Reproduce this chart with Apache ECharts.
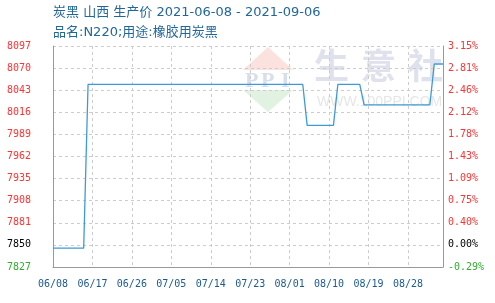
<!DOCTYPE html>
<html>
<head>
<meta charset="utf-8">
<script src="https://cdn.jsdelivr.net/npm/echarts@6/dist/echarts.min.js"></script>
<style>
  html, body { margin: 0; padding: 0; background: #fff; }
  #chart { width: 495px; height: 303px; }
</style>
</head>
<body>
<div id="chart"></div>
<script>
// Daily dates shown on the x axis
const dates = [
  '06/08','06/09','06/10','06/11','06/12','06/13','06/14','06/15','06/16','06/17',
  '06/18','06/19','06/20','06/21','06/22','06/23','06/24','06/25','06/26','06/27',
  '06/28','06/29','06/30','07/01','07/02','07/03','07/04','07/05','07/06','07/07',
  '07/08','07/09','07/10','07/11','07/12','07/13','07/14','07/15','07/16','07/17',
  '07/18','07/19','07/20','07/21','07/22','07/23','07/24','07/25','07/26','07/27',
  '07/28','07/29','07/30','07/31','08/01','08/02','08/03','08/04','08/05','08/06',
  '08/07','08/08','08/09','08/10','08/11','08/12','08/13','08/14','08/15','08/16',
  '08/17','08/18','08/19','08/20','08/21','08/22','08/23','08/24','08/25','08/26',
  '08/27','08/28','08/29','08/30','08/31','09/01','09/02','09/03','09/04','09/05'
];

// Ex-works price (元/吨) for each date
const prices = [
  7850, 7850, 7850, 7850, 7850, 7850, 7850, 7850, 8050, 8050,
  8050, 8050, 8050, 8050, 8050, 8050, 8050, 8050, 8050, 8050,
  8050, 8050, 8050, 8050, 8050, 8050, 8050, 8050, 8050, 8050,
  8050, 8050, 8050, 8050, 8050, 8050, 8050, 8050, 8050, 8050,
  8050, 8050, 8050, 8050, 8050, 8050, 8050, 8050, 8050, 8050,
  8050, 8050, 8050, 8050, 8050, 8050, 8050, 8050, 8000, 8000,
  8000, 8000, 8000, 8000, 8000, 8050, 8050, 8050, 8050, 8050,
  8050, 8025, 8025, 8025, 8025, 8025, 8025, 8025, 8025, 8025,
  8025, 8025, 8025, 8025, 8025, 8025, 8025, 8075, 8075, 8075
];

// Tick labels, bottom to top
const priceTicks = ['7827','7850','7881','7908','7935','7962','7989','8016','8043','8070','8097'];
const pctTicks = ['-0.29%','0.00%','0.40%','0.75%','1.09%','1.43%','1.78%','2.12%','2.46%','2.81%','3.15%'];

const axisMin = 7827;
const axisMax = 8097;
const axisStep = 27;
const baseTick = 1; // the tick that marks the starting price

function tickIndex(v) { return Math.round((v - axisMin) / axisStep); }
function tickStyle(i) { return i === baseTick ? 'b' : (i < baseTick ? 'g' : 'r'); }

const labelRich = {
  r: { color: '#ff3333', fontFamily: 'DejaVu Sans Mono', fontSize: 10 },
  b: { color: '#000000', fontFamily: 'DejaVu Sans Mono', fontSize: 10 },
  g: { color: '#33aa33', fontFamily: 'DejaVu Sans Mono', fontSize: 10 }
};

const titleFont = '"DejaVu Sans", "Noto Sans CJK SC", sans-serif';
const markFill = '#d8deec';

const chart = echarts.init(document.getElementById('chart'), null, { renderer: 'canvas' });

chart.setOption({
  animation: false,
  backgroundColor: '#ffffff',
  title: {
    text: '炭黑 山西 生产价 2021-06-08 - 2021-09-06',
    subtext: '品名:N220;用途:橡胶用炭黑',
    left: 48,
    top: 1,
    itemGap: 7,
    textStyle: { color: '#22679a', fontSize: 13, fontWeight: 'normal', fontFamily: titleFont },
    subtextStyle: { color: '#22679a', fontSize: 13, fontFamily: titleFont }
  },
  graphic: [
    // site logo behind the plot
    { type: 'polygon', z: -1, shape: { points: [[268, 47], [243, 70], [293, 70]] }, style: { fill: '#fbe2df' } },
    { type: 'polygon', z: -1, shape: { points: [[243, 90], [293, 90], [268, 112]] }, style: { fill: '#e1f2e2' } },
    { type: 'text', z: -1, left: 245, top: 70, style: { text: 'P', fill: markFill, font: 'bold 22px "Liberation Serif"' } },
    { type: 'text', z: -1, left: 261, top: 70, style: { text: 'P', fill: markFill, font: 'bold 22px "Liberation Serif"' } },
    { type: 'text', z: -1, left: 281, top: 70, style: { text: 'I', fill: markFill, font: 'bold 22px "Liberation Serif"' } },
    { type: 'text', z: -1, left: 314, top: 48, style: { text: '生', fill: '#dfe2ec', font: 'bold 35px "Noto Sans CJK SC"' } },
    { type: 'text', z: -1, left: 361, top: 48, style: { text: '意', fill: '#dfe2ec', font: 'bold 35px "Noto Sans CJK SC"' } },
    { type: 'text', z: -1, left: 408, top: 48, style: { text: '社', fill: '#dfe2ec', font: 'bold 35px "Noto Sans CJK SC"' } },
    { type: 'text', z: -1, left: 317, top: 95, style: { text: 'WWW.100PPI.COM', fill: '#e6e6e6', font: '14px "Liberation Sans"' } }
  ],
  grid: { left: 53, right: 52, top: 46, bottom: 36, containLabel: false },
  xAxis: {
    type: 'category',
    data: dates,
    boundaryGap: false,
    axisLine: { show: true, lineStyle: { color: '#999999', width: 1 } },
    axisTick: { show: false },
    axisLabel: {
      interval: function (i) { return i % 9 === 0 && i < 90; },
      color: '#1a5a90',
      fontFamily: 'DejaVu Sans Mono',
      fontSize: 10,
      margin: 12
    },
    splitLine: {
      show: true,
      interval: function (i) { return i % 9 === 0 && i > 0; },
      lineStyle: { color: '#cccccc', type: [3, 3], width: 1 }
    }
  },
  yAxis: [
    {
      type: 'value',
      min: axisMin,
      max: axisMax,
      interval: axisStep,
      position: 'left',
      axisLine: { show: true, lineStyle: { color: '#999999' } },
      axisTick: { show: false },
      axisLabel: {
        margin: 22,
        align: 'right',
        formatter: function (v) {
          const i = tickIndex(v);
          return '{' + tickStyle(i) + '|' + priceTicks[i] + '}';
        },
        rich: labelRich
      },
      splitLine: { show: true, lineStyle: { color: '#cccccc', type: [3, 3], width: 1 } }
    },
    {
      type: 'value',
      min: axisMin,
      max: axisMax,
      interval: axisStep,
      position: 'right',
      axisLine: { show: true, lineStyle: { color: '#999999' } },
      axisTick: { show: false },
      axisLabel: {
        margin: 5,
        formatter: function (v) {
          const i = tickIndex(v);
          return '{' + tickStyle(i) + '|' + pctTicks[i] + '}';
        },
        rich: labelRich
      },
      splitLine: { show: false }
    }
  ],
  series: [
    {
      type: 'line',
      data: prices,
      yAxisIndex: 0,
      symbol: 'none',
      z: 3,
      lineStyle: { color: '#3d9ad8', width: 1.3 }
    }
  ]
});
</script>
</body>
</html>
